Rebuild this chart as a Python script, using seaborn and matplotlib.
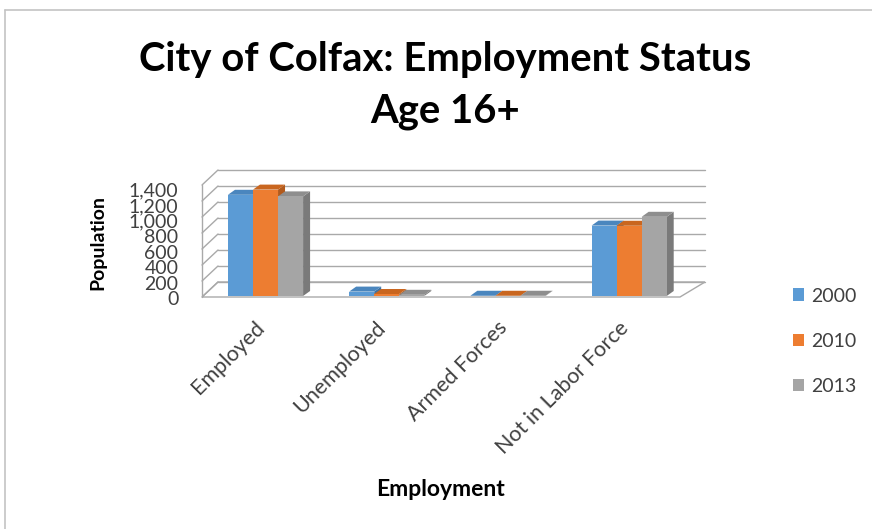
import matplotlib
matplotlib.use("Agg")
import matplotlib.pyplot as plt
from matplotlib.patches import Polygon, Patch
from matplotlib.lines import Line2D
from matplotlib.transforms import ScaledTranslation
import seaborn as sns
import pandas as pd

# ---- data ----
categories = ["Employed", "Unemployed", "Armed Forces", "Not in Labor Force"]
years = ["2000", "2010", "2013"]
values_2000 = [1265, 55, 3, 880]
values_2010 = [1330, 25, 3, 878]
values_2013 = [1245, 15, 3, 990]
y_tick_labels = ["0", "200", "400", "600", "800", "1,000", "1,200", "1,400"]

front_colors = ["#5B9BD5", "#ED7D31", "#A5A5A5"]
top_colors = ["#4A86BE", "#C9661F", "#8E8E8E"]
side_colors = ["#3F73A3", "#B25A1C", "#7A7A7A"]

df = pd.DataFrame({
    "Employment": categories * 3,
    "Year": [y for y in years for _ in categories],
    "Population": values_2000 + values_2010 + values_2013,
})

sns.set_theme(style="white")
plt.rcParams["font.family"] = ["Lato", "DejaVu Sans"]

W, H = 872, 529
fig = plt.figure(figsize=(W / 100, H / 100), dpi=100)

# plot box in pixels (front plane)
L_PX, R_PX, T_PX, B_PX = 202, 705, 170, 298
ax = fig.add_axes([L_PX / W, 1 - B_PX / H, (R_PX - L_PX) / W, (B_PX - T_PX) / H])
XMIN, XMAX = -0.524, 3.626
YMIN, YMAX = -25, 1575
PPX = (R_PX - L_PX) / (XMAX - XMIN)   # pixels per category unit
PPY = (B_PX - T_PX) / (YMAX - YMIN)   # pixels per value unit

def dx(px):
    return px / PPX

def dy(px):
    return px / PPY

sns.barplot(data=df, x="Employment", y="Population", hue="Year",
            palette=front_colors, width=0.62, saturation=1, dodge=True,
            legend=False, linewidth=0, ax=ax)

ax.set_xlim(XMIN, XMAX)
ax.set_ylim(YMIN, YMAX)
for s in ax.spines.values():
    s.set_visible(False)

# ---- walls and floor of the pseudo-3D frame ----
grid_c = "#A9A9A9"
wall_dx, wall_dy = dx(16), dy(15)
back_left = XMIN + wall_dx
front_floor_y = dy(-1)           # floor front edge
back_floor_y = front_floor_y + wall_dy
floor_right_front = XMIN + dx(478)

floor = Polygon([(XMIN, front_floor_y), (floor_right_front, front_floor_y),
                 (XMAX, back_floor_y), (back_left, back_floor_y)],
                closed=True, facecolor="white", edgecolor=grid_c, lw=1.0, zorder=1)
ax.add_patch(floor)

grid_vals = [0, 200, 400, 600, 800, 1000, 1200, 1400]
step_px = 16
for k, v in enumerate(grid_vals):
    yb = back_floor_y + dy(step_px * k)
    yf = front_floor_y + dy(step_px * k)
    ax.plot([back_left, XMAX], [yb, yb], color=grid_c, lw=1.0, zorder=1, clip_on=False)
    ax.plot([XMIN, back_left], [yf, yb], color=grid_c, lw=1.0, zorder=1, clip_on=False)
ax.plot([XMIN, XMIN], [front_floor_y, front_floor_y + dy(step_px * 7)],
        color=grid_c, lw=1.0, zorder=1, clip_on=False)

# ---- 3D faces on each bar ----
bar_dx, bar_dy = dx(7), dy(5)
n_cat = len(categories)
for i, p in enumerate(ax.patches[: 3 * n_cat]):
    j = i // n_cat
    x0, w, h = p.get_x(), p.get_width(), p.get_height()
    z = 3 + j
    p.set_zorder(z)
    side = Polygon([(x0 + w, 0), (x0 + w + bar_dx, bar_dy),
                    (x0 + w + bar_dx, h + bar_dy), (x0 + w, h)],
                   closed=True, facecolor=side_colors[j], edgecolor="none", zorder=z - 0.5)
    top = Polygon([(x0, h), (x0 + w, h), (x0 + w + bar_dx, h + bar_dy), (x0 + bar_dx, h + bar_dy)],
                  closed=True, facecolor=top_colors[j], edgecolor="none", zorder=z - 0.5)
    ax.add_patch(side)
    ax.add_patch(top)

# ---- axis labels and ticks ----
label_step_px = 15.5
ytick_pos = [dy(-2) + dy(label_step_px * k) for k in range(len(y_tick_labels))]
ax.set_yticks(ytick_pos)
ax.set_yticklabels(y_tick_labels, fontsize=14, color="#404040")
ax.tick_params(axis="y", length=0, pad=17)

ax.set_xticks(range(n_cat))
ax.set_xticklabels(categories, rotation=45, ha="right", rotation_mode="anchor",
                   fontsize=15.5, color="#404040")
ax.tick_params(axis="x", length=0, pad=14)
shift = ScaledTranslation(-11 / 100, 0, fig.dpi_scale_trans)
for lbl in ax.get_xticklabels():
    lbl.set_transform(lbl.get_transform() + shift)

ax.set_xlabel("")
ax.set_ylabel("")
fig.text(98 / W, 1 - 243 / H, "Population", rotation=90, fontsize=14, fontweight="bold",
         ha="center", va="center", color="black")
fig.text(440 / W, 1 - 489 / H, "Employment", fontsize=16.5, fontweight="bold",
         ha="center", va="center", color="black")

fig.text(445 / W, 1 - 71 / H, "City of Colfax: Employment Status",
         fontsize=28.8, fontweight="bold", ha="center", va="baseline", color="black")
fig.text(445 / W, 1 - 122 / H, "Age 16+",
         fontsize=28.8, fontweight="bold", ha="center", va="baseline", color="black")

# ---- legend ----
handles = [Patch(facecolor=c, edgecolor="none") for c in front_colors]
fig.legend(handles, years, loc="upper left", bbox_to_anchor=(775 / W, 1 - 270 / H),
           frameon=False, fontsize=14, handlelength=0.6, handleheight=0.6,
           handletextpad=0.35, labelspacing=1.45, labelcolor="#404040")

# chart-area border
fig.add_artist(Line2D([5 / W, 1], [1 - 10 / H, 1 - 10 / H], color="#C4C4C4", lw=1.2))
fig.add_artist(Line2D([5 / W, 5 / W], [0, 1 - 10 / H], color="#C4C4C4", lw=1.2))

fig.savefig("out.png", dpi=100)
